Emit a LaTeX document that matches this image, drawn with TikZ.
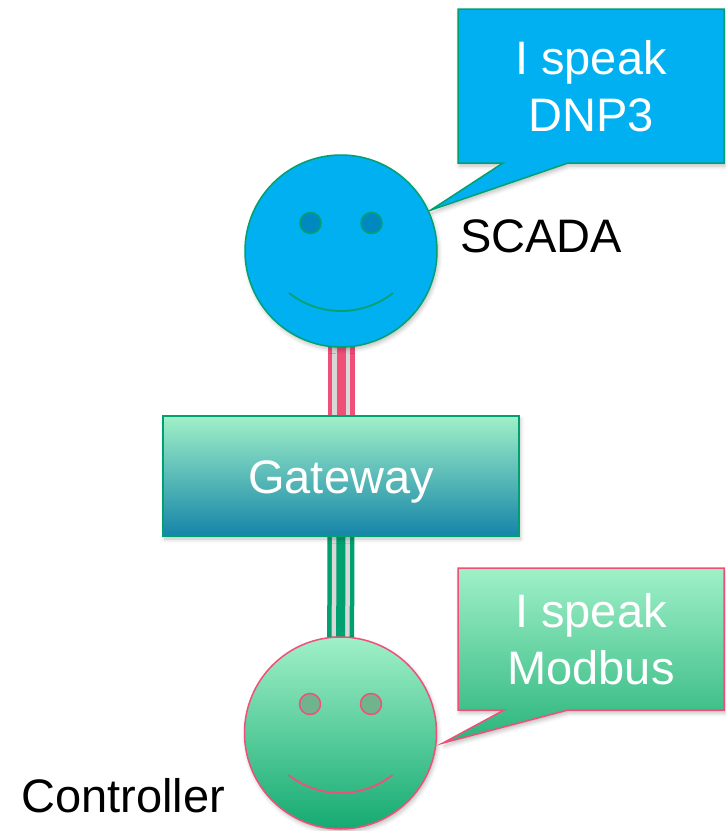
\documentclass[tikz,border=0pt]{standalone}
\usepackage{fontspec}
\setmainfont{Liberation Sans}
\usetikzlibrary{calc,shadows.blur}
\pgfdeclarelayer{bg}
\pgfsetlayers{bg,main}
\definecolor{sky}{HTML}{00B0F0}
\definecolor{skyeye}{HTML}{0088C0}
\definecolor{grn}{HTML}{00A070}
\definecolor{pnk}{HTML}{F05078}
\definecolor{mint}{HTML}{A0F0C8}
\definecolor{gwmid}{HTML}{82D2C0}
\definecolor{tealb}{HTML}{1585A8}
\definecolor{ctrlbot}{HTML}{15AA72}
\definecolor{modbot}{HTML}{2AB47C}
\definecolor{ctrleye}{HTML}{70B48E}
\definecolor{gapgray}{HTML}{D8D8D8}
\begin{document}
\begin{tikzpicture}[x=1pt,y=1pt,
  txt/.style={font=\fontsize{47}{57}\selectfont, inner sep=0pt},
  shadowy/.style={blur shadow={shadow xshift=1.5pt, shadow yshift=-3pt, shadow blur radius=4pt, shadow opacity=25}},
  face/.style={circle, minimum size=192pt, inner sep=0pt, line width=1.5pt, shadowy},
  eye/.style={line width=1.5pt},
  smile/.style={line width=1.8pt},
  gwbox/.style={rectangle, minimum width=356pt, minimum height=120pt, inner sep=0pt,
    draw=grn, line width=1.5pt, top color=mint, middle color=gwmid, bottom color=tealb,
    text=white, txt, text height=34pt, text depth=0pt, shadowy},
  bubble/.style={line width=1.5pt, line join=miter, shadowy},
  trip/.style={line width=27pt, draw=#1,
    postaction={draw=gapgray, line width=18pt},
    postaction={draw=#1, line width=9pt}}
]
\useasboundingbox (0,0) rectangle (726,-831);

% faces and gateway
\node[face, draw=grn, fill=sky] (scada) at (341,-251) {};
\node[gwbox] (gw) at (341,-476) {Gateway};
\node[face, draw=pnk, top color=mint, bottom color=ctrlbot] (ctrl) at (340.5,-733) {};

% labels
\node[txt, anchor=base west] (scadalbl) at (460,-252) {SCADA};
\node[txt, anchor=base west] (ctrllbl) at (21,-812) {Controller};

% speech texts
\node[txt, text=white, align=center] (dnp) at (591,-86) {I speak\\DNP3};
\node[txt, text=white, align=center] (mod) at (591,-639) {I speak\\Modbus};

% SCADA face details
\draw[eye, draw=grn, fill=skyeye] ($(scada.center)+(-30.5,28)$) circle[radius=10.5];
\draw[eye, draw=grn, fill=skyeye] ($(scada.center)+(30.5,28)$) circle[radius=10.5];
\draw[smile, draw=grn] ($(scada.center)+(-52,-42)$) arc[start angle=231.8, end angle=308.2, radius=84.1];

% Controller face details
\draw[eye, draw=pnk, fill=ctrleye] ($(ctrl.center)+(-30.5,29)$) circle[radius=10.5];
\draw[eye, draw=pnk, fill=ctrleye] ($(ctrl.center)+(30.5,29)$) circle[radius=10.5];
\draw[smile, draw=pnk] ($(ctrl.center)+(-52,-42)$) arc[start angle=231.8, end angle=308.2, radius=84.1];

\begin{pgfonlayer}{bg}
  % connectors
  \draw[trip=pnk] (scada.center) -- (gw.center);
  \draw[trip=grn] (gw.center) -- (ctrl.center);
  % speech bubbles
  \draw[bubble, draw=grn, fill=sky]
    (458,-9) -- (724,-9) -- (724,-163) -- (568,-163) -- ($(scada.25)+(2,0)$)
    -- (503,-163) -- (458,-163) -- cycle;
  \draw[bubble, draw=pnk, top color=mint, bottom color=modbot]
    (458,-568) -- (724,-568) -- (724,-710) -- (568,-710) -- ($(ctrl.-6)+(6,0)$)
    -- (504,-710) -- (458,-710) -- cycle;
\end{pgfonlayer}
\end{tikzpicture}
\end{document}
